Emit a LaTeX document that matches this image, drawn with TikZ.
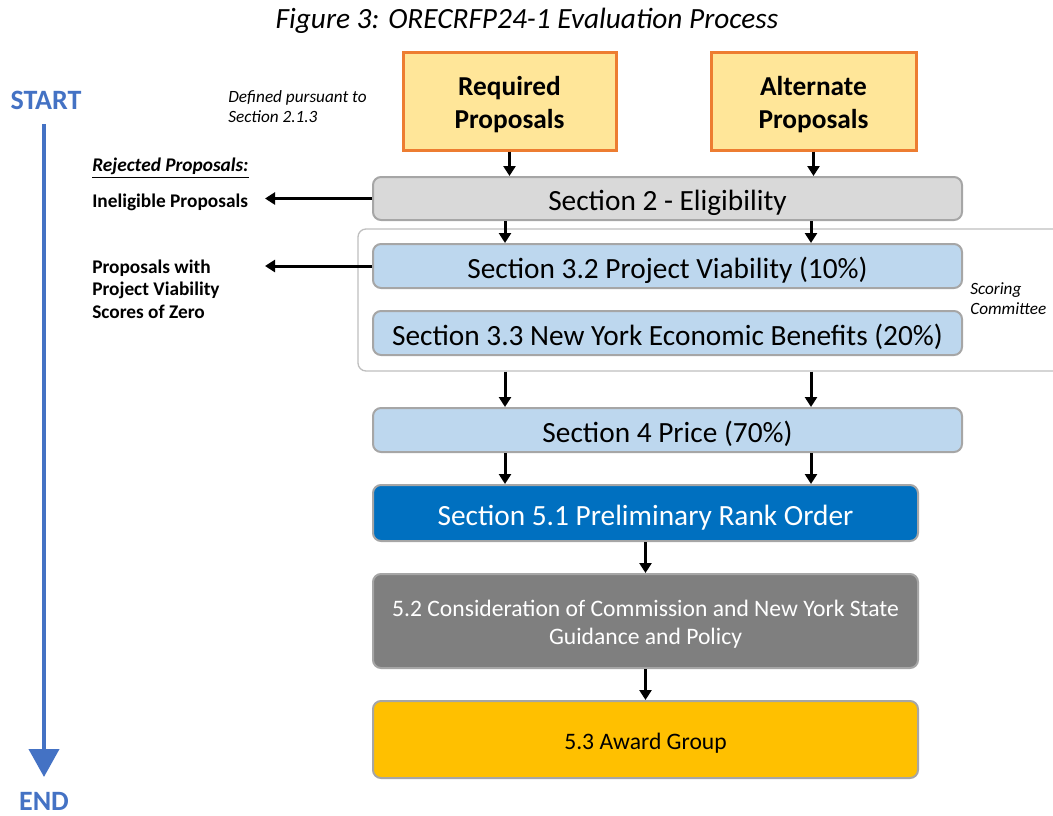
\documentclass[tikz,border=0pt]{standalone}
\usepackage{fontspec}
\setmainfont{Carlito}
\usetikzlibrary{arrows.meta,positioning,calc}

\definecolor{startblue}{HTML}{4472C4}
\definecolor{propfill}{HTML}{FFE699}
\definecolor{propdraw}{HTML}{ED7D31}
\definecolor{eligfill}{HTML}{D9D9D9}
\definecolor{scorefill}{HTML}{BDD7EE}
\definecolor{rankblue}{HTML}{0070C0}
\definecolor{policygray}{HTML}{7F7F7F}
\definecolor{awardgold}{HTML}{FFC000}
\definecolor{edgegray}{HTML}{A6A6A6}
\definecolor{framegray}{HTML}{BFBFBF}

% two centred lines, set a little below the middle of their box
\newcommand{\boxlines}[2][-8.5pt]{\raisebox{#1}[0pt][0pt]{\begin{tabular}{@{}c@{}}#2\end{tabular}}}

\tikzset{
  stagebox/.style={draw=edgegray, line width=1.5pt, rounded corners=6pt,
    inner sep=0pt, text height=19pt, text depth=1pt, font=\fontsize{22}{26}\selectfont},
  propbox/.style={draw=propdraw, fill=propfill, line width=2.25pt, inner sep=0pt,
    minimum height=73.5pt, font=\fontsize{20.5}{24.5}\selectfont\bfseries},
  flow/.style={line width=2.25pt, -{Triangle[width=9pt,length=7.5pt]}},
  sidenote/.style={anchor=west, align=left, inner sep=0pt, font=\fontsize{14.5}{17}\selectfont\bfseries},
  smallnote/.style={anchor=west, align=left, inner sep=0pt, font=\fontsize{12.9}{15}\selectfont\itshape},
  endpoint/.style={text=startblue, inner sep=0pt, font=\fontsize{21}{25}\selectfont\bfseries}
}

\begin{document}
\begin{tikzpicture}[x=0.75pt, y=-0.75pt]
\useasboundingbox (0,0) rectangle (1053,815);

% Title
\node[font=\fontsize{22}{26}\selectfont\itshape] (title) at (527,21) {Figure 3: ORECRFP24-1 Evaluation Process};

% Start / end line
\node[endpoint] (start) at (46,100) {START};
\node[endpoint] (end) at (44,801) {END};
\draw[startblue, line width=3pt, -{Triangle[width=22.5pt,length=21pt]},
  shorten <=11pt, shorten >=11pt] (start.south -| end) -- (end.north);

% Notes on the left
\node[smallnote] (defined) at (228,107) {Defined pursuant to\\Section 2.1.3};
\node[sidenote, font=\fontsize{14.5}{17}\selectfont\bfseries\itshape] (rejected) at (92,168) {\underline{Rejected Proposals:}};
\node[sidenote] (inelig) at (92,202) {Ineligible Proposals};
\node[sidenote] (zero) at (92,289) {Proposals with\\Project Viability\\Scores of Zero};

% Proposal boxes
\node[propbox, minimum width=159.75pt] (required) at (509.5,101) {\boxlines{Required\\Proposals}};
\node[propbox, minimum width=153.75pt] (alternate) at (813.5,101) {\boxlines{Alternate\\Proposals}};

% Scoring committee frame
\node[draw=framegray, line width=1pt, rounded corners=6pt, minimum width=534pt,
  minimum height=106.5pt, inner sep=0pt] (committee) at (714,300) {};
\node[smallnote] (scoring) at (970,299) {Scoring\\Committee};

% Evaluation stages
\node[stagebox, fill=eligfill, minimum width=441.75pt, minimum height=32.25pt] (elig) at (667.5,198.5) {Section 2 - Eligibility};
\node[stagebox, fill=scorefill, minimum width=441.75pt, minimum height=33pt] (via) at (667.5,266) {Section 3.2 Project Viability (10\%)};
\node[stagebox, fill=scorefill, minimum width=441.75pt, minimum height=33pt] (econ) at (667.5,333) {Section 3.3 New York Economic Benefits (20\%)};
\node[stagebox, fill=scorefill, minimum width=441.75pt, minimum height=33pt] (price) at (667.5,430) {Section 4 Price (70\%)};
\node[stagebox, fill=rankblue, text=white, minimum width=408.75pt, minimum height=42pt] (rank) at (645.5,513) {Section 5.1 Preliminary Rank Order};
\node[stagebox, fill=policygray, text=white, minimum width=408.75pt, minimum height=70.5pt,
  text height=, text depth=, font=\fontsize{17.7}{21}\selectfont] (policy) at (645.5,621)
  {\boxlines[-7pt]{5.2 Consideration of Commission and New York State\\Guidance and Policy}};
\node[stagebox, fill=awardgold, minimum width=408.75pt, minimum height=57.75pt,
  text height=15.4pt, font=\fontsize{17.7}{21}\selectfont] (award) at (645.5,739.5) {5.3 Award Group};

% Connectors
\coordinate (colL) at (505,0);
\coordinate (colR) at (811,0);
\coordinate (rejx) at (265,0);
\draw[flow] (required.south) -- (elig.north -| required.south);
\draw[flow] (alternate.south) -- (elig.north -| alternate.south);
\foreach \col in {colL,colR} {
  \draw[flow] (elig.south -| \col) -- (via.north -| \col);
  \draw[flow] (committee.south -| \col) -- (price.north -| \col);
  \draw[flow] (price.south -| \col) -- (rank.north -| \col);
}
\draw[flow] (rank.south) -- (policy.north);
\draw[flow] (policy.south) -- (award.north);
\draw[flow] (elig.west) -- (elig.west -| rejx);
\draw[flow] (via.west) -- (via.west -| rejx);

\end{tikzpicture}
\end{document}
